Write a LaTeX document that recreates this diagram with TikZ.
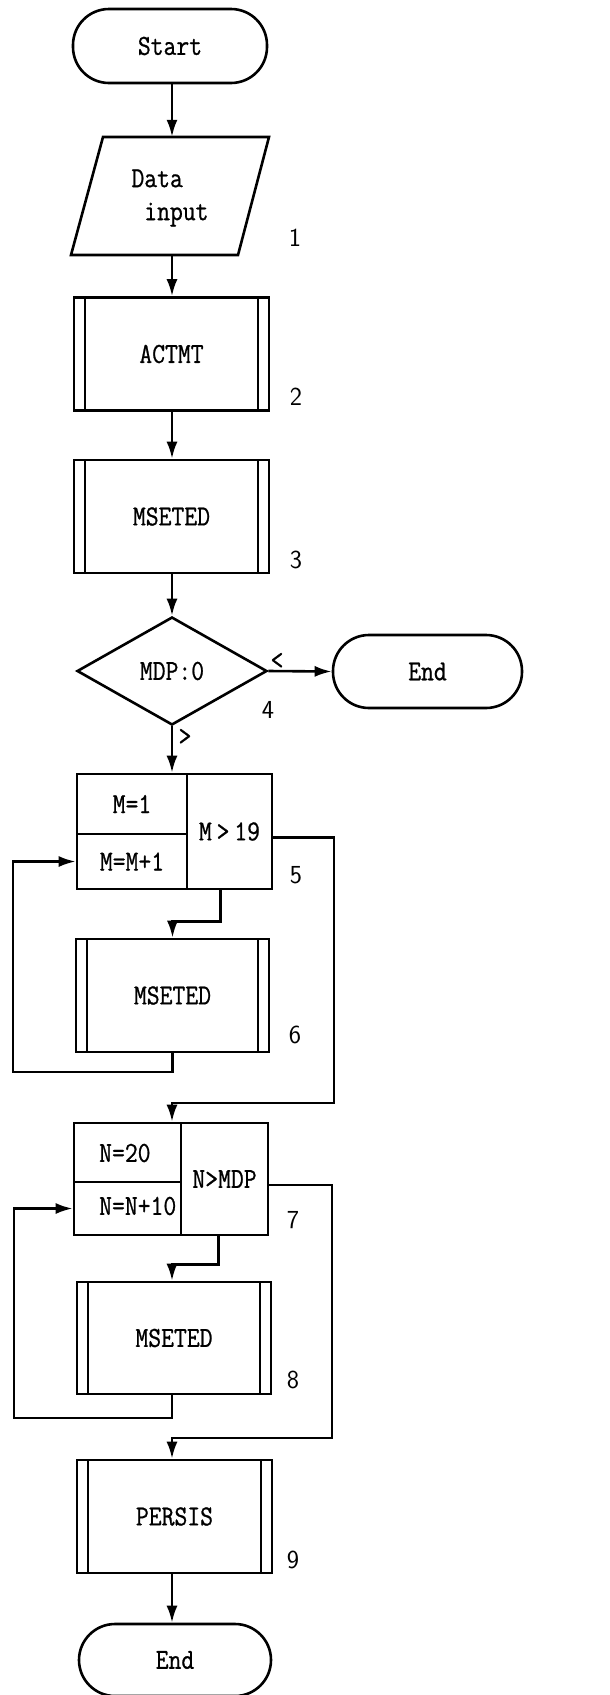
\documentclass[tikz,border=0pt]{standalone}
\usepackage{fontspec}
\setmonofont{Latin Modern Mono}[FakeStretch=0.86, FakeBold=0.8]
\usetikzlibrary{shapes.geometric,arrows.meta}
\tikzset{
  ln/.style={line width=2.6pt},
  arr/.style={line width=2.6pt, -{Latex[length=17pt,width=11pt]}},
  txt/.style={font=\fontsize{29}{33}\selectfont\ttfamily, inner sep=0pt},
  num/.style={font=\fontsize{26}{30}\selectfont\sffamily, inner sep=0pt},
  term/.style={draw, line width=2.6pt, rounded corners=36pt, txt},
  sub/.style={draw, line width=2.6pt, txt, minimum width=195pt, minimum height=113pt,
    path picture={
      \draw[line width=2.6pt] ([xshift=11pt]path picture bounding box.north west) -- ([xshift=11pt]path picture bounding box.south west);
      \draw[line width=2.6pt] ([xshift=-11pt]path picture bounding box.north east) -- ([xshift=-11pt]path picture bounding box.south east);}},
  cell/.style={draw, line width=2.6pt, txt},
}
\begin{document}
\begin{tikzpicture}[x=1pt,y=-1pt]
\useasboundingbox (0,0) rectangle (610,1695);
% nodes
\node[term, minimum width=194pt, minimum height=74pt] (start) at (170,46) {Start};
\node[minimum width=100pt, minimum height=118pt, inner sep=0pt] (data) at (171,196) {};
\draw[ln] (103,137) -- (269,137) -- (238,255) -- (71,255) -- cycle;
\node[txt, align=left] (datat) at (170,198) {Data\\\phantom{x}input};
\node[sub] (actmt) at (171.5,354) {ACTMT};
\node[sub] (ms3) at (171.5,516.5) {MSETED};
\node[diamond, draw, line width=2.6pt, shape aspect=1.76, minimum width=190pt, minimum height=108pt, inner sep=0pt, txt] (dec) at (172,671) {MDP:0};
\node[term, minimum width=189pt, minimum height=73pt] (end1) at (427.5,671.5) {End};
% loop 5
\node[cell, minimum width=110pt, minimum height=60pt] (m1) at (132,804) {M=1};
\node[cell, minimum width=110pt, minimum height=55pt] (mm1) at (132,861.5) {M=M+1};
\node[cell, minimum width=85pt, minimum height=115pt] (m19) at (229.5,831.5) {M\,>\,19};
\node[sub, minimum width=193pt] (ms6) at (172.5,995.5) {MSETED};
% loop 7
\node[cell, minimum width=107pt, minimum height=59pt] (n20) at (127.5,1152.5) {};
\node[cell, minimum width=107pt, minimum height=53pt] (nn10) at (127.5,1208.5) {};
\node[txt, anchor=west] (n20t) at (99,1153) {N=20};
\node[txt, anchor=west] (nn10t) at (99,1206) {N=N+10};
\node[cell, minimum width=87pt, minimum height=112pt] (nmdp) at (224.5,1179) {N>MDP};
\node[sub, minimum width=194pt, minimum height=112pt] (ms8) at (174,1338) {MSETED};
\node[sub] (persis) at (174.5,1516.5) {PERSIS};
\node[term, minimum width=192pt, minimum height=72pt] (end2) at (175,1660) {End};
% labels
\node[num] (l1) at (295,238) {1};
\node[num] (l2) at (296,397) {2};
\node[num] (l3) at (296,560) {3};
\node[num] (l4) at (268,710) {4};
\node[num] (l5) at (296,875) {5};
\node[num] (l6) at (295,1035) {6};
\node[num] (l7) at (293,1220) {7};
\node[num] (l8) at (293,1380) {8};
\node[num] (l9) at (293,1560) {9};
\node[txt] (lt) at (277,661) {<};
\node[txt] (gt) at (185,737) {>};
% connectors
\draw[arr] (start.south -| dec.north) -- (data.north -| dec.north);
\draw[arr] (data.south -| dec.north) -- (actmt.north -| dec.north);
\draw[arr] (actmt.south -| dec.north) -- (ms3.north -| dec.north);
\draw[arr] (ms3.south -| dec.north) -- (dec.north);
\draw[arr] (dec.east) -- (end1.west);
\draw[arr] (dec.south) -- (dec.south |- m1.north);
\coordinate (r1) at (334,1103);
\draw[arr] ([yshift=-6pt]m19.east) -| (r1) -- (r1 -| dec.south) -- (dec.south |- n20.north);
\draw[arr] ([xshift=-9pt]m19.south) -- ++(0,31) -| (ms6.north);
\coordinate (lp1) at (13,1072);
\draw[arr] (ms6.south) |- (lp1) |- (mm1.west);
\coordinate (r2) at (332,1438);
\draw[arr] ([yshift=-6pt]nmdp.east) -| (r2) -- (r2 -| dec.south) -- (dec.south |- persis.north);
\draw[arr] ([xshift=-6pt]nmdp.south) -- ++(0,28) -| (ms8.north -| dec.south);
\coordinate (lp2) at (14,1418);
\draw[arr] (ms8.south -| dec.south) |- (lp2) |- (nn10.west);
\draw[arr] (persis.south -| dec.south) -- (end2.north -| dec.south);
\end{tikzpicture}
\end{document}
